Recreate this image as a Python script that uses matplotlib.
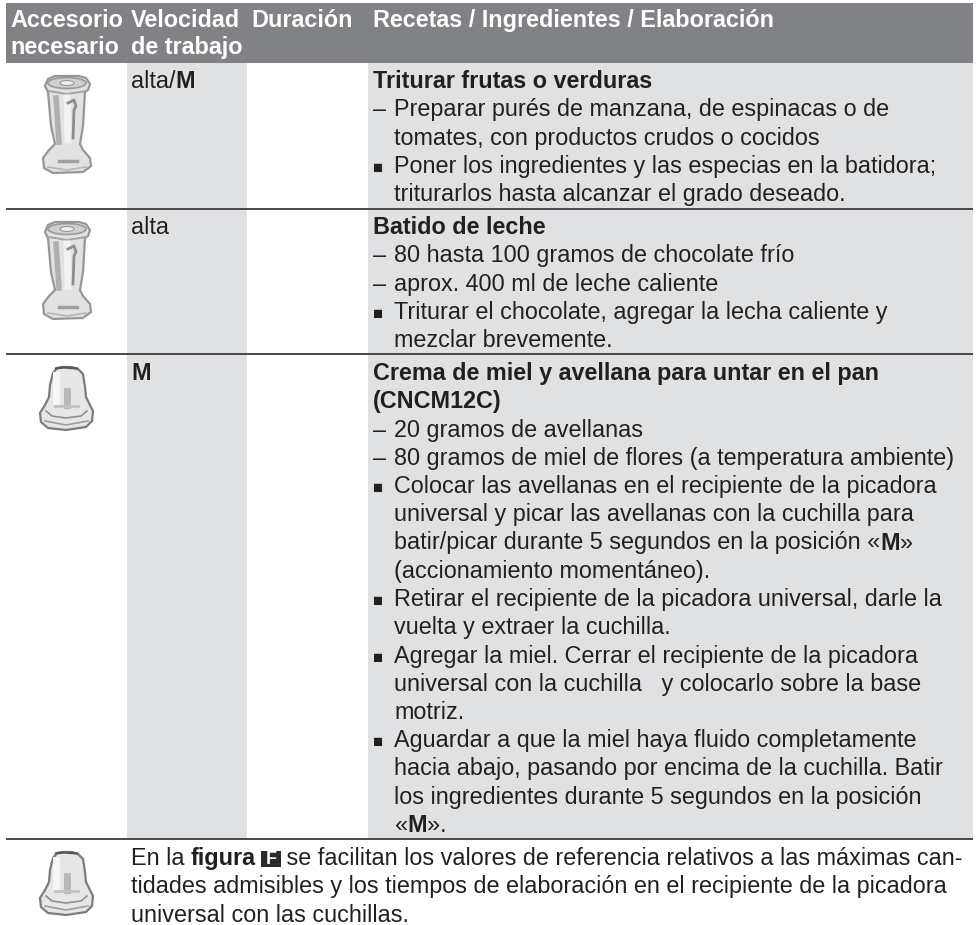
import matplotlib
matplotlib.use("Agg")
import matplotlib.pyplot as plt
from matplotlib.patches import Polygon, Rectangle, Ellipse

W, H = 978, 925
plt.rcParams['font.family'] = ['Liberation Sans', 'DejaVu Sans']

FS = 16.85
INK = "#231f20"
HEADER_BG = "#808285"
SHADE = "#e0e1e3"
RULE = "#3a3a3c"

header_cols = [
    (10, ["Accesorio", "necesario"]),
    (131, ["Velocidad", "de trabajo"]),
    (251, ["Duración"]),
    (373, ["Recetas / Ingredientes / Elaboración"]),
]

speeds = ["alta/**M**", "alta", "**M**"]

# marker, text; "b" bold title, "-" dash item, "s" square bullet, "" continuation
recipe_1 = [
    ("b", "Triturar frutas o verduras"),
    ("-", "Preparar purés de manzana, de espinacas o de"),
    ("", "tomates, con productos crudos o cocidos"),
    ("s", "Poner los ingredientes y las especias en la batidora;"),
    ("", "triturarlos hasta alcanzar el grado deseado."),
]
recipe_2 = [
    ("b", "Batido de leche"),
    ("-", "80 hasta 100 gramos de chocolate frío"),
    ("-", "aprox. 400 ml de leche caliente"),
    ("s", "Triturar el chocolate, agregar la lecha caliente y"),
    ("", "mezclar brevemente."),
]
recipe_3 = [
    ("b", "Crema de miel y avellana para untar en el pan"),
    ("b", "(CNCM12C)"),
    ("-", "20 gramos de avellanas"),
    ("-", "80 gramos de miel de flores (a temperatura ambiente)"),
    ("s", "Colocar las avellanas en el recipiente de la picadora"),
    ("", "universal y picar las avellanas con la cuchilla para"),
    ("", "batir/picar durante 5 segundos en la posición «**M**»"),
    ("", "(accionamiento momentáneo)."),
    ("s", "Retirar el recipiente de la picadora universal, darle la"),
    ("", "vuelta y extraer la cuchilla."),
    ("s", "Agregar la miel. Cerrar el recipiente de la picadora"),
    ("", "universal con la cuchilla   y colocarlo sobre la base"),
    ("", "motriz."),
    ("s", "Aguardar a que la miel haya fluido completamente"),
    ("", "hacia abajo, pasando por encima de la cuchilla. Batir"),
    ("", "los ingredientes durante 5 segundos en la posición"),
    ("", "«**M**»."),
]
note_lines = [
    "En la **figura** @ se facilitan los valores de referencia relativos a las máximas can-",
    "tidades admisibles y los tiempos de elaboración en el recipiente de la picadora",
    "universal con las cuchillas.",
]

fig = plt.figure(figsize=(W / 100, H / 100), dpi=100)
ax = fig.add_axes([0, 0, 1, 1])
ax.set_xlim(0, W)
ax.set_ylim(H, 0)
ax.axis("off")
renderer = fig.canvas.get_renderer()


def put_line(x, y, s, color=INK, bold=False):
    # text with **bold** runs and @ for the boxed figure letter
    parts = s.split("**")
    for i, part in enumerate(parts):
        weight = "bold" if (i % 2 == 1 or bold) else "normal"
        for j, run in enumerate(part.split("@")):
            if j > 0:
                ax.add_patch(Rectangle((x - 1.5, y - 14), 20, 16, color="#2b2a2b", lw=0))
                ax.text(x + 8.5, y - 0.5, "F", color="white", fontsize=13, weight="bold", ha="center")
                x += 17
            if not run:
                continue
            ax.text(x, y, run, color=color, fontsize=FS, weight=weight, va="baseline")
            # spaces at the ends don't count in the extent, so measure with a guard
            g = ax.text(0, 0, run + "|", fontsize=FS, weight=weight)
            b = ax.text(0, 0, "|", fontsize=FS, weight=weight)
            x += g.get_window_extent(renderer).width - b.get_window_extent(renderer).width
            g.remove()
            b.remove()


def put_recipe(lines, y):
    for kind, s in lines:
        if kind == "b":
            put_line(373, y, s, bold=True)
        else:
            if kind == "-":
                ax.text(373, y, "–", color=INK, fontsize=FS)
            elif kind == "s":
                ax.text(372.5, y, "■", color=INK, fontsize=12)
            put_line(394.5, y, s)
        y += 28.25


def jar(x0, y0):
    # blender jar icon, 48 x 97 px
    body = [(5, 3), (12, 0), (36, 0), (43, 2), (47, 8), (45, 14), (42, 16), (40, 50), (37, 68), (40, 74),
            (47, 82), (48, 90), (40, 96), (10, 97), (1, 92), (0, 82), (6, 74), (12, 68), (8, 50), (5, 16), (2, 10)]
    ax.add_patch(Polygon([(x0 + a, y0 + b) for a, b in body], fc="#e2e2e2", ec="#979797", lw=1.6))
    ax.add_patch(Ellipse((x0 + 24, y0 + 7), 38, 11, fc="#cfcfcf", ec="#9a9a9a", lw=1.2))
    ax.add_patch(Ellipse((x0 + 24, y0 + 7), 14, 5, fc="#efefef", ec="#9a9a9a", lw=0.8))
    ax.plot([x0 + 6, x0 + 24, x0 + 43], [y0 + 15, y0 + 18, y0 + 15], color="#a5a5a5", lw=1.4)
    ax.plot([x0 + 13, x0 + 16], [y0 + 22, y0 + 66], color="#b0b0b0", lw=4)
    ax.plot([x0 + 24, x0 + 25], [y0 + 22, y0 + 64], color="#f2f2f2", lw=5)
    ax.plot([x0 + 25, x0 + 31, x0 + 33, x0 + 31, x0 + 30], [y0 + 27, y0 + 24, y0 + 30, y0 + 34, y0 + 62],
            color="#8d8d8d", lw=2)
    ax.plot([x0 + 16, x0 + 34], [y0 + 85, y0 + 85], color="#a0a0a0", lw=2.5)
    ax.plot([x0 + 5, x0 + 24, x0 + 43], [y0 + 91, y0 + 94, y0 + 91], color="#b5b5b5", lw=1.2)


def chopper(x0, y0):
    # universal chopper icon, 53 x 63 px
    body = [(13, 6), (17, 1), (22, 0), (32, 0), (38, 2), (43, 7), (45, 20), (46, 30), (49, 36), (53, 44),
            (52, 54), (46, 60), (26, 63), (8, 61), (1, 55), (0, 46), (5, 38), (9, 30), (10, 18)]
    ax.add_patch(Polygon([(x0 + a, y0 + b) for a, b in body], fc="#e6e6e6", ec="#7c7c7c", lw=1.6))
    ax.plot([x0 + 16, x0 + 24, x0 + 37], [y0 + 1.5, y0 + 0.5, y0 + 1.5], color="#555555", lw=1.6)
    ax.plot([x0 + 16, x0 + 16], [y0 + 8, y0 + 34], color="#f6f6f6", lw=5)
    ax.plot([x0 + 27, x0 + 27], [y0 + 24, y0 + 38], color="#b8b8b8", lw=5)
    ax.plot([x0 + 15, x0 + 38], [y0 + 39, y0 + 39], color="#c2c2c2", lw=2)
    ax.plot([x0 + 6, x0 + 12, x0 + 26, x0 + 41, x0 + 47], [y0 + 44, y0 + 49, y0 + 51, y0 + 49, y0 + 44],
            color="#8f8f8f", lw=1.2)
    ax.plot([x0 + 5, x0 + 26, x0 + 48], [y0 + 54, y0 + 58, y0 + 54], color="#9e9e9e", lw=1.2)


# backgrounds
ax.add_patch(Rectangle((127, 63), 120, 776, color=SHADE, lw=0))
ax.add_patch(Rectangle((368, 63), 605, 776, color=SHADE, lw=0))
ax.add_patch(Rectangle((6, 3), 967, 60, color=HEADER_BG, lw=0))

for rule_y in [209, 354, 839]:
    ax.plot([6, 973], [rule_y, rule_y], color=RULE, lw=1.3, solid_capstyle="butt")

# header
for x, lines in header_cols:
    for i, s in enumerate(lines):
        ax.text(x, 27 + i * 27, s, color="white", fontsize=FS, weight="bold")

# rows
for s, y in zip(speeds, [88, 234, 380]):
    put_line(131, y, s)
put_recipe(recipe_1, 88)
put_recipe(recipe_2, 234)
put_recipe(recipe_3, 380)

for i, s in enumerate(note_lines):
    put_line(131, 865 + i * 28.25, s)

jar(43, 76)
jar(43, 222)
chopper(40, 367)
chopper(40, 852)

fig.savefig("out.png", dpi=100)
